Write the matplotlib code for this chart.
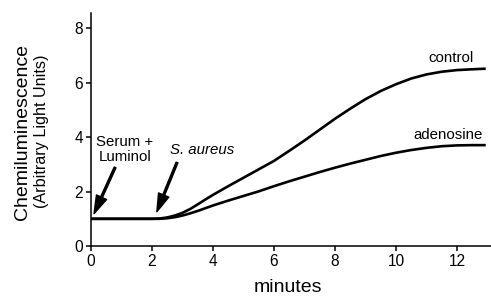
import matplotlib
matplotlib.use('Agg')
import matplotlib.pyplot as plt

plt.rcParams['font.family'] = ['Liberation Sans', 'DejaVu Sans']

minutes = [0, 1, 2, 2.25, 2.5, 2.75, 3, 3.25, 3.5, 3.75, 4, 4.5, 5, 5.5, 6, 6.5, 7, 7.5, 8,
           8.5, 9, 9.5, 10, 10.5, 11, 11.5, 12, 12.5, 12.9]
control = [1.0, 1.0, 1.0, 1.01, 1.05, 1.12, 1.22, 1.36, 1.53, 1.71, 1.88, 2.2, 2.51, 2.82, 3.13,
           3.5, 3.88, 4.28, 4.68, 5.05, 5.4, 5.7, 5.95, 6.16, 6.31, 6.41, 6.47, 6.5, 6.52]
adenosine = [1.0, 1.0, 1.0, 1.0, 1.02, 1.06, 1.12, 1.2, 1.29, 1.39, 1.49, 1.67, 1.84, 2.01, 2.2,
             2.38, 2.55, 2.72, 2.88, 3.03, 3.17, 3.31, 3.43, 3.53, 3.61, 3.67, 3.7, 3.71, 3.71]
xticks = [0, 2, 4, 6, 8, 10, 12]
yticks = [0, 2, 4, 6, 8]

fig = plt.figure(figsize=(4.91, 3.0), dpi=100)
ax = fig.add_axes([91/491, 54/300, 399.5/491, 233/300])

ax.plot(minutes, control, color='black', lw=1.9)
ax.plot(minutes, adenosine, color='black', lw=1.9)

ax.set_xlim(0, 13.1)
ax.set_ylim(0, 8.57)
ax.set_xticks(xticks)
ax.set_yticks(yticks)
ax.tick_params(direction='out', length=3.5, width=1.1, labelsize=11.2, pad=2)
for s in ['top', 'right']:
    ax.spines[s].set_visible(False)
for s in ['left', 'bottom']:
    ax.spines[s].set_linewidth(1.1)

ax.text(11.8, 6.9, 'control', fontsize=10.8, ha='center', va='center')
ax.text(11.7, 4.1, 'adenosine', fontsize=10.8, ha='center', va='center')

arrow = dict(facecolor='black', edgecolor='black', width=1.4, headwidth=8, headlength=13, shrink=0)
ax.annotate('', xy=(0.1, 1.19), xytext=(0.79, 2.89), arrowprops=arrow)
ax.annotate('', xy=(2.16, 1.26), xytext=(2.82, 3.07), arrowprops=arrow)
ax.text(1.11, 3.55, 'Serum +\nLuminol', fontsize=10.8, ha='center', va='center', linespacing=1.05)
ax.text(3.64, 3.52, 'S. aureus', fontsize=10.8, ha='center', va='center', style='italic')

fig.text(23/491, 1 - 132/300, 'Chemiluminescence', fontsize=14, rotation=90, ha='center', va='center')
fig.text(42/491, 1 - 131/300, '(Arbitrary Light Units)', fontsize=11.6, rotation=90, ha='center', va='center')
fig.text(288/491, 1 - 288/300, 'minutes', fontsize=14, ha='center', va='center')

fig.savefig('out.png', dpi=100)
